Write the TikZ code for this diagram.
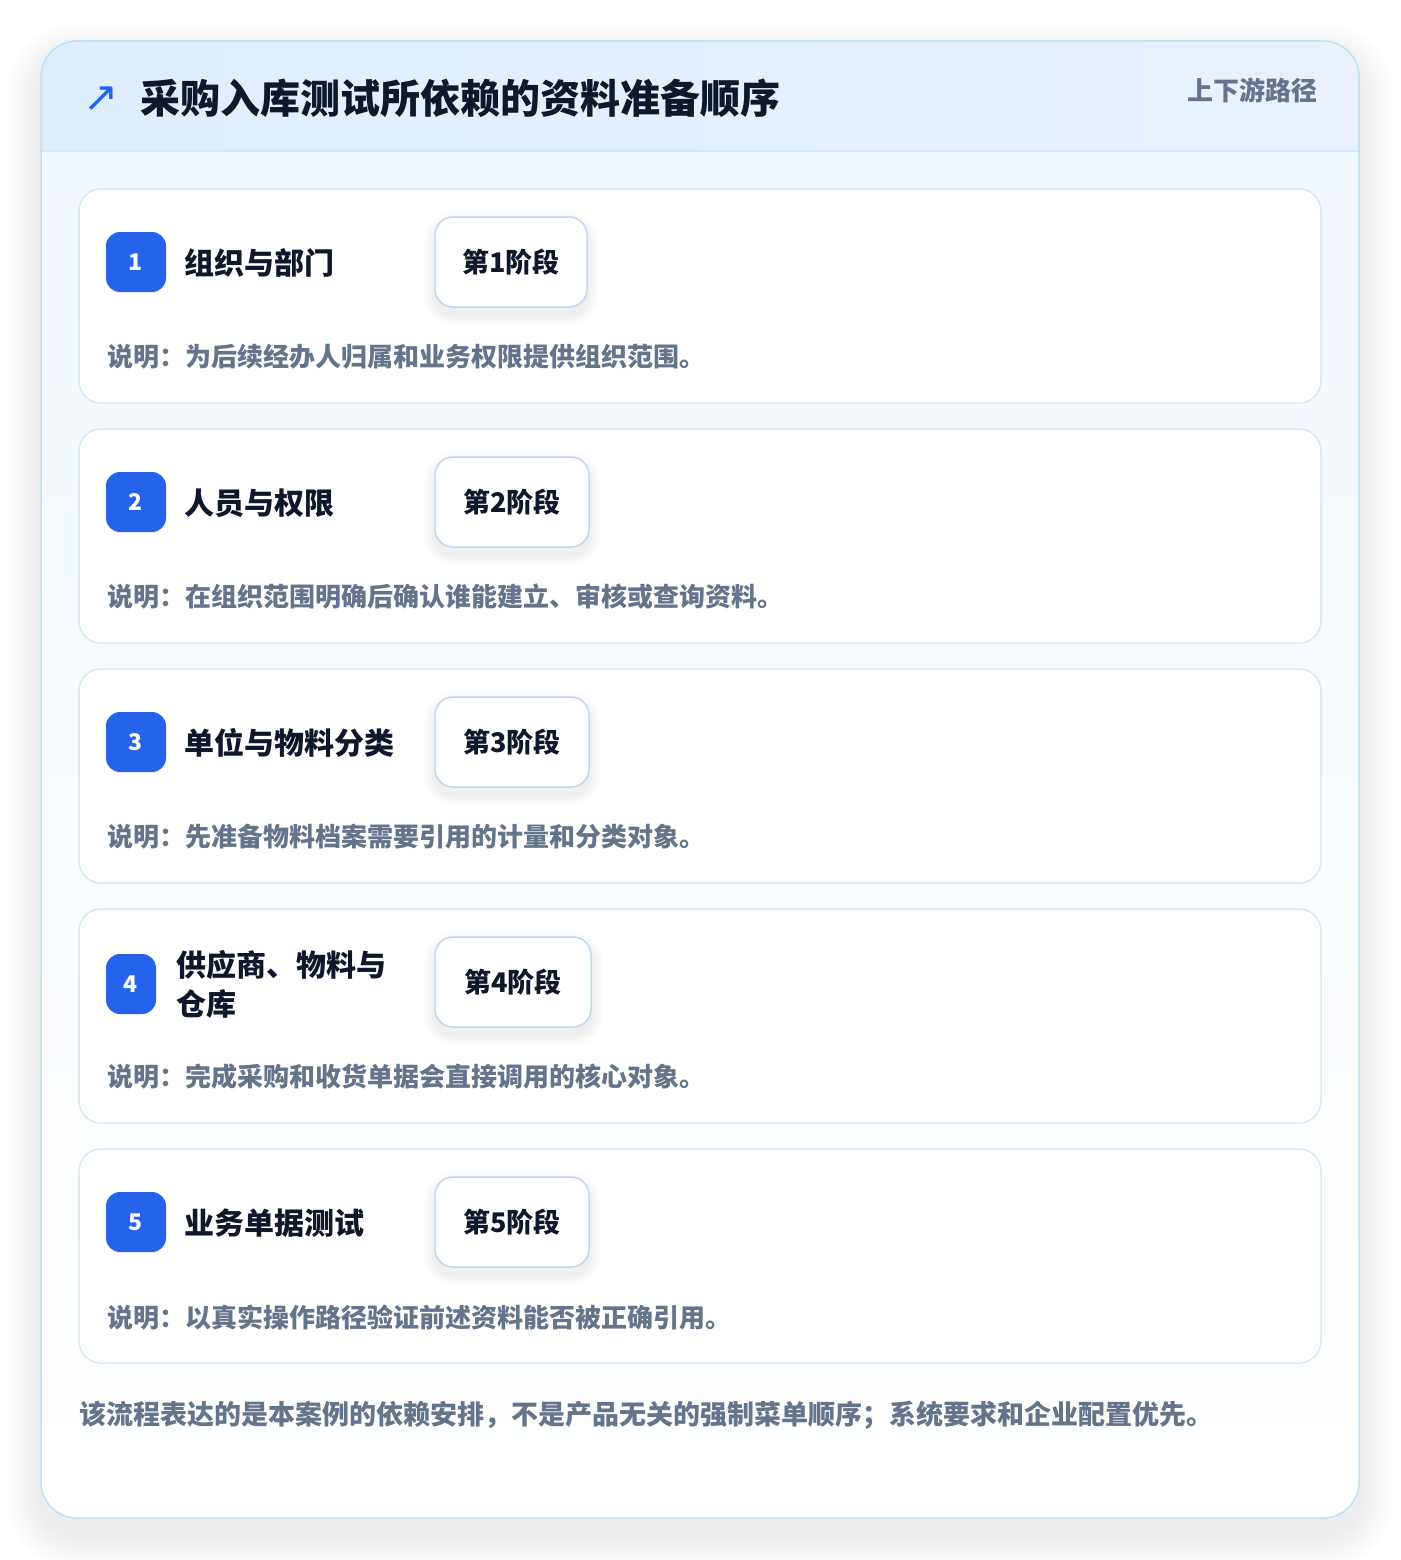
\documentclass[tikz,border=0pt]{standalone}
\usepackage{fontspec}
\setmainfont{Noto Sans CJK SC}
\newfontfamily\symfont{DejaVu Sans}
\usetikzlibrary{calc}

\definecolor{badgeblue}{HTML}{2563EB}
\definecolor{inkdark}{HTML}{0F172A}
\definecolor{inkgray}{HTML}{64748B}
\definecolor{frameline}{HTML}{BFE1F6}
\definecolor{cardline}{HTML}{D9E8F8}
\definecolor{pillline}{HTML}{C0D8F4}
\definecolor{headleft}{HTML}{DFEEFC}
\definecolor{headright}{HTML}{EAF1FD}
\definecolor{bodytop}{HTML}{F0F7FE}

% soft shadow below a stage pill: centre x, centre y, half width
\newcommand{\pillshade}[3]{%
  \foreach \s in {1,...,8} {
    \fill[black, opacity=0.008, rounded corners=18+\s*1.5]
      (#1-#3-\s*1.5, #2-45-\s*1.5+7) rectangle (#1+#3+\s*1.5, #2+45+\s*1.5+7);
  }%
}

\tikzset{
  stepcard/.style={draw=cardline, line width=1.5pt, fill=white, rounded corners=22pt},
  numbadge/.style={fill=badgeblue, rounded corners=14pt, minimum width=60pt, minimum height=60pt,
    text=white, font=\fontsize{23}{23}\selectfont\bfseries, inner sep=0pt},
  stagepill/.style={draw=pillline, line width=1.5pt, fill=white, rounded corners=18pt,
    minimum width=152pt, minimum height=90pt, text=inkdark, font=\fontsize{27}{27}\selectfont\bfseries},
  stepname/.style={anchor=west, inner sep=0pt, text=inkdark, font=\fontsize{30}{30}\selectfont\bfseries},
  stepnote/.style={anchor=west, inner sep=0pt, text=inkgray, font=\fontsize{26}{26}\selectfont\bfseries},
}

\begin{document}
\begin{tikzpicture}[x=1pt,y=-1pt]
        \useasboundingbox (0,0) rectangle (1400,1560);
        \fill[white] (0,0) rectangle (1400,1560);

        % outer frame with its shadow
        \foreach \s in {1,...,18} {
          \fill[black, opacity=0.0055, rounded corners=36+\s*2]
            (41-\s*2, 41-\s*2+16) rectangle (1359+\s*2, 1518+\s*2+16);
        }
        \shade[rounded corners=36pt, top color=bodytop, bottom color=white] (41,41) rectangle (1359,1518);
        \begin{scope}
          \clip[rounded corners=36pt] (41,41) rectangle (1359,1518);
          \shade[left color=headleft, right color=headright] (41,41) rectangle (1359,151);
          \draw[cardline, line width=1.5pt] (41,151) -- (1359,151);
        \end{scope}
        \draw[frameline, line width=1.5pt, rounded corners=36pt] (41,41) rectangle (1359,1518);

        \node[text=badgeblue, font=\symfont\fontsize{42}{42}\selectfont, inner sep=0pt] (icon) at (101,99) {↗};
        \node[anchor=west, inner sep=0pt, text=inkdark, font=\fontsize{40}{40}\selectfont\bfseries] (title) at (140,98) {采购入库测试所依赖的资料准备顺序};
        \node[anchor=east, inner sep=0pt, text=inkgray, font=\fontsize{26}{26}\selectfont\bfseries] (pathtag) at (1318,90) {上下游路径};

        % step 1
        \filldraw[stepcard] (79,189) rectangle (1321,403);
        \node[numbadge] (num1) at (136,262) {1};
        \node[stepname] (name1) at (184,263) {组织与部门};
        \pillshade{511}{262}{76}
        \node[stagepill] (stage1) at (511,262) {第1阶段};
        \node[stepnote] (note1) at (107,357) {说明：为后续经办人归属和业务权限提供组织范围。};

        % step 2
        \filldraw[stepcard] (79,429) rectangle (1321,643);
        \node[numbadge] (num2) at (136,502) {2};
        \node[stepname] (name2) at (184,503) {人员与权限};
        \pillshade{512}{502}{77}
        \node[stagepill, minimum width=154pt] (stage2) at (512,502) {第2阶段};
        \node[stepnote] (note2) at (107,597) {说明：在组织范围明确后确认谁能建立、审核或查询资料。};

        % step 3
        \filldraw[stepcard] (79,669) rectangle (1321,883);
        \node[numbadge] (num3) at (136,742) {3};
        \node[stepname] (name3) at (184,743) {单位与物料分类};
        \pillshade{512}{742}{77}
        \node[stagepill, minimum width=154pt] (stage3) at (512,742) {第3阶段};
        \node[stepnote] (note3) at (107,837) {说明：先准备物料档案需要引用的计量和分类对象。};

        % step 4
        \filldraw[stepcard] (79,909) rectangle (1321,1123);
        \node[numbadge, minimum width=50pt] (num4) at (131,984) {4};
        \node[stepname, align=left, font=\fontsize{30}{39}\selectfont\bfseries] (name4) at (176,984) {供应商、物料与\\仓库};
        \pillshade{513}{982}{78}
        \node[stagepill, minimum width=156pt] (stage4) at (513,982) {第4阶段};
        \node[stepnote] (note4) at (107,1077) {说明：完成采购和收货单据会直接调用的核心对象。};

        % step 5
        \filldraw[stepcard] (79,1149) rectangle (1321,1363);
        \node[numbadge] (num5) at (136,1222) {5};
        \node[stepname] (name5) at (184,1223) {业务单据测试};
        \pillshade{512}{1222}{77}
        \node[stagepill, minimum width=154pt] (stage5) at (512,1222) {第5阶段};
        \node[stepnote] (note5) at (107,1317) {说明：以真实操作路径验证前述资料能否被正确引用。};

        \node[stepnote, font=\fontsize{27}{27}\selectfont\bfseries] (footer) at (79,1415) {该流程表达的是本案例的依赖安排，不是产品无关的强制菜单顺序；系统要求和企业配置优先。};
\end{tikzpicture}
\end{document}
